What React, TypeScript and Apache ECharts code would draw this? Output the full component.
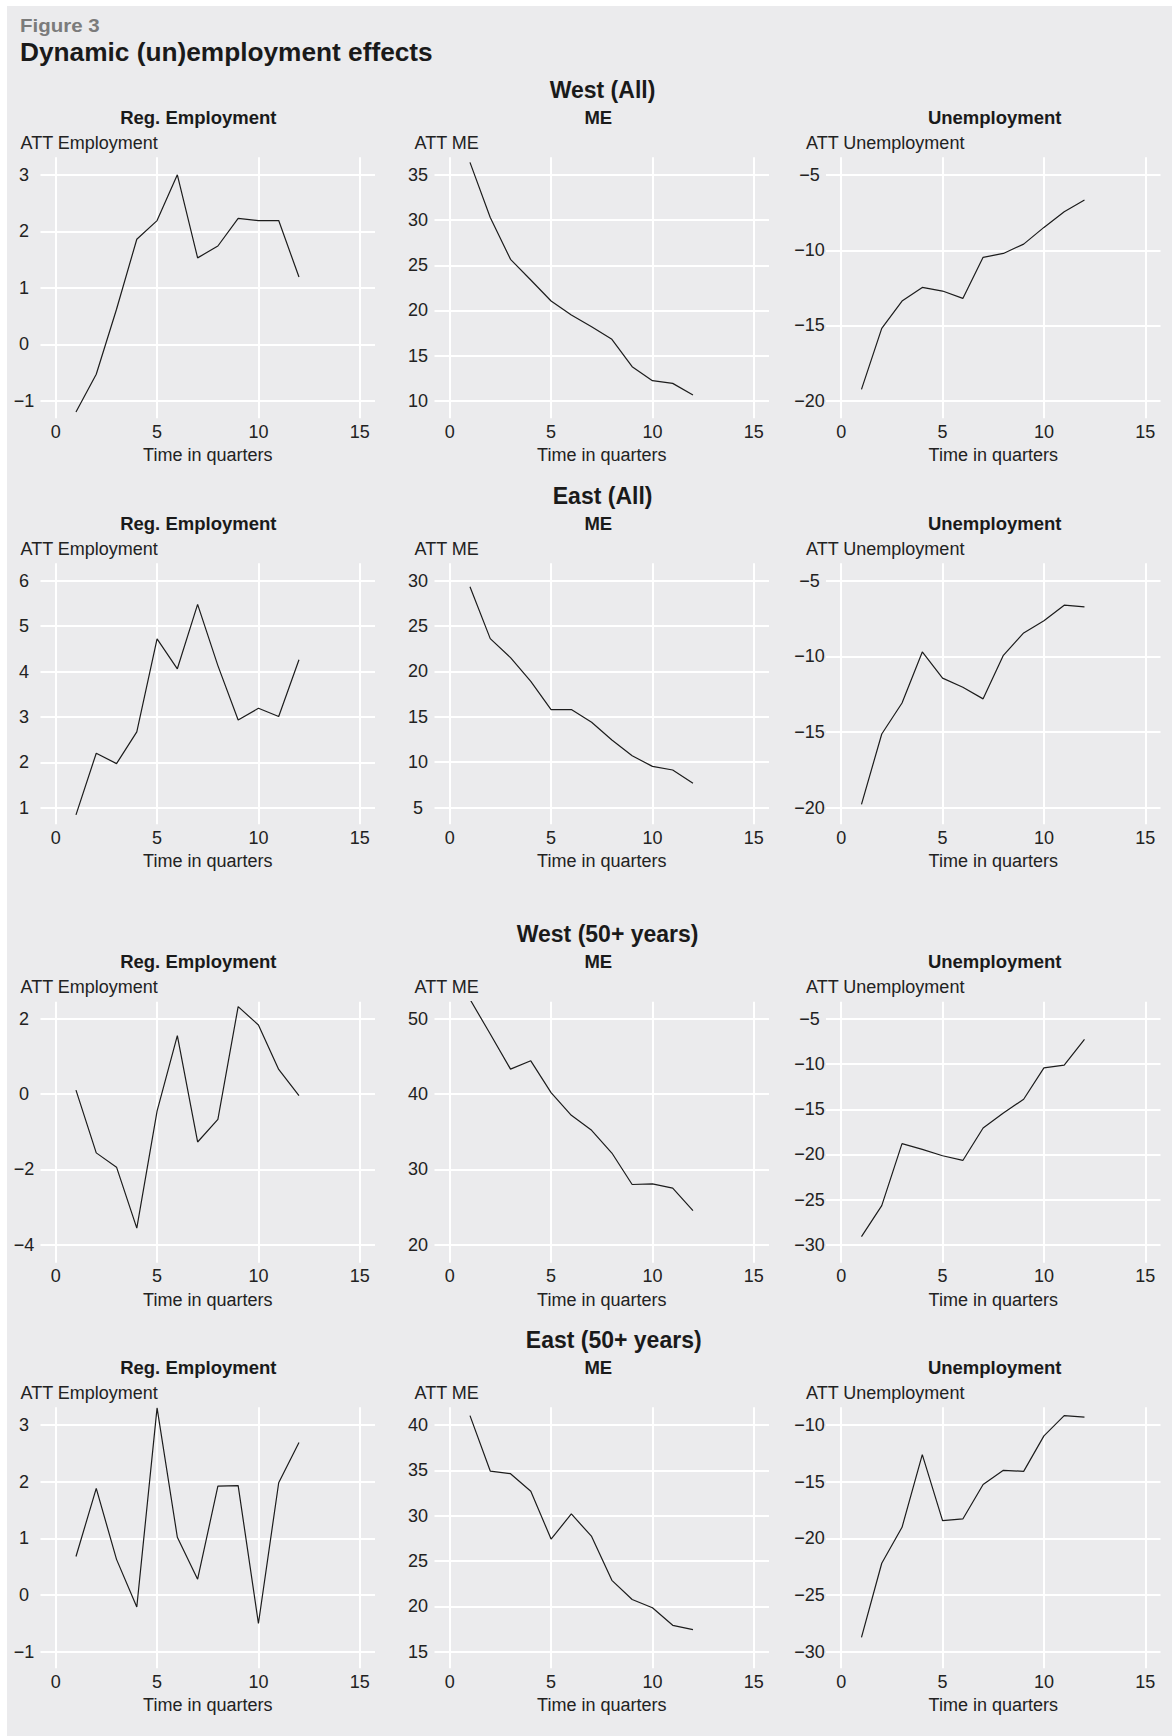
import React, { useEffect, useRef } from "react";
import * as echarts from "echarts";

// ---------- data ----------
const quarters = [1, 2, 3, 4, 5, 6, 7, 8, 9, 10, 11, 12];
const xTicks = [0, 5, 10, 15];

const figureLabel = "Figure 3";
const figureTitle = "Dynamic (un)employment effects";
const groupTitles = ["West (All)", "East (All)", "West (50+ years)", "East (50+ years)"];
const panelTitles = ["Reg. Employment", "ME", "Unemployment"];
const yAxisTitles = ["ATT Employment", "ATT ME", "ATT Unemployment"];
const xAxisTitle = "Time in quarters";

// West (All)
const westAllEmployment = [-1.2, -0.53, 0.62, 1.86, 2.19, 3.0, 1.53, 1.74, 2.23, 2.19, 2.19, 1.19];
const westAllME = [36.4, 30.3, 25.66, 23.37, 21.04, 19.49, 18.2, 16.8, 13.77, 12.22, 11.92, 10.63];
const westAllUnemployment = [-19.25, -15.19, -13.38, -12.47, -12.71, -13.2, -10.47, -10.21, -9.59, -8.48, -7.44, -6.66];
// East (All)
const eastAllEmployment = [0.84, 2.2, 1.97, 2.67, 4.72, 4.06, 5.48, 4.13, 2.93, 3.19, 3.01, 4.26];
const eastAllME = [29.34, 23.62, 21.52, 18.9, 15.8, 15.8, 14.4, 12.45, 10.72, 9.54, 9.14, 7.69];
const eastAllUnemployment = [-19.78, -15.13, -13.08, -9.71, -11.44, -12.04, -12.81, -9.93, -8.45, -7.65, -6.62, -6.73];
// West (50+ years)
const west50Employment = [0.11, -1.56, -1.94, -3.56, -0.45, 1.56, -1.27, -0.67, 2.33, 1.84, 0.66, -0.04];
const west50ME = [52.62, 48.0, 43.33, 44.44, 40.22, 37.2, 35.2, 32.18, 28.0, 28.09, 27.51, 24.53];
const west50Unemployment = [-29.11, -25.67, -18.81, -19.44, -20.15, -20.67, -17.07, -15.41, -13.89, -10.41, -10.11, -7.26];
// East (50+ years)
const east50Employment = [0.68, 1.88, 0.63, -0.21, 3.3, 1.02, 0.28, 1.92, 1.93, -0.5, 1.98, 2.69];
const east50ME = [41.04, 34.93, 34.64, 32.71, 27.43, 30.2, 27.72, 22.88, 20.77, 19.85, 17.92, 17.44];
const east50Unemployment = [-28.73, -22.19, -19.02, -12.6, -18.43, -18.28, -15.24, -13.99, -14.08, -10.95, -9.17, -9.29];

// y tick labels per panel
const westAllEmploymentTicks = [-1, 0, 1, 2, 3];
const westAllMETicks = [10, 15, 20, 25, 30, 35];
const westAllUnemploymentTicks = [-20, -15, -10, -5];
const eastAllEmploymentTicks = [1, 2, 3, 4, 5, 6];
const eastAllMETicks = [5, 10, 15, 20, 25, 30];
const eastAllUnemploymentTicks = [-20, -15, -10, -5];
const west50EmploymentTicks = [-4, -2, 0, 2];
const west50METicks = [20, 30, 40, 50];
const west50UnemploymentTicks = [-30, -25, -20, -15, -10, -5];
const east50EmploymentTicks = [-1, 0, 1, 2, 3];
const east50METicks = [15, 20, 25, 30, 35, 40];
const east50UnemploymentTicks = [-30, -25, -20, -15, -10];

// y axis ranges per panel
const westAllEmploymentRange = [-1.31, 3.31];
const westAllMERange = [8.05, 36.96];
const westAllUnemploymentRange = [-21.17, -3.82];
const eastAllEmploymentRange = [0.633, 6.385];
const eastAllMERange = [3.16, 31.92];
const eastAllUnemploymentRange = [-21.1, -3.85];
const west50EmploymentRange = [-4.48, 2.46];
const west50MERange = [17.6, 52.3];
const west50UnemploymentRange = [-32.0, -3.08];
const east50EmploymentRange = [-1.29, 3.31];
const east50MERange = [13.18, 41.96];
const east50UnemploymentRange = [-31.46, -8.43];
const xRange = [-0.75, 15.75];

const panels = [
  [westAllEmployment, westAllEmploymentTicks, westAllEmploymentRange],
  [westAllME, westAllMETicks, westAllMERange],
  [westAllUnemployment, westAllUnemploymentTicks, westAllUnemploymentRange],
  [eastAllEmployment, eastAllEmploymentTicks, eastAllEmploymentRange],
  [eastAllME, eastAllMETicks, eastAllMERange],
  [eastAllUnemployment, eastAllUnemploymentTicks, eastAllUnemploymentRange],
  [west50Employment, west50EmploymentTicks, west50EmploymentRange],
  [west50ME, west50METicks, west50MERange],
  [west50Unemployment, west50UnemploymentTicks, west50UnemploymentRange],
  [east50Employment, east50EmploymentTicks, east50EmploymentRange],
  [east50ME, east50METicks, east50MERange],
  [east50Unemployment, east50UnemploymentTicks, east50UnemploymentRange],
] as [number[], number[], number[]][];

// ---------- layout ----------
const OX = 7;
const OY = 6;
const FONT = '"Liberation Sans", Arial, Helvetica, sans-serif';
const BG = "#ebebed";
const TEXT = "#222222";
const rowOffsets = [0, 406, 844.4, 1250];
const colLefts = [40.5, 434.5, 826];
const plotW = 334.5;
const plotH = 261;
const plotTop0 = 157.3;
const groupTitleX = [602.5, 602.6, 607.6, 613.7];
const panelTitleX = [198.3, 598.3, 994.7];

const fmt = (v: number) => (v < 0 ? "\u2212" + String(-v) : String(v));

export default function App() {
  const ref = useRef<HTMLDivElement>(null);
  useEffect(() => {
    if (!ref.current) return;
    const chart = echarts.init(ref.current, undefined, { renderer: "svg" });

    const grids: any[] = [];
    const xAxes: any[] = [];
    const yAxes: any[] = [];
    const series: any[] = [];
    const graphics: any[] = [];

    graphics.push({
      type: "text",
      x: 20 - OX,
      y: 25 - OY,
      scaleX: 1.08,
      style: { text: figureLabel, fill: "#7b7b7b", font: `bold 19px ${FONT}`, verticalAlign: "middle", align: "left" },
    });
    graphics.push({
      type: "text",
      x: 20 - OX,
      y: 52.5 - OY,
      scaleX: 1.05,
      style: { text: figureTitle, fill: "#1a1a1a", font: `bold 25px ${FONT}`, verticalAlign: "middle", align: "left" },
    });

    panels.forEach(([vals, ticks, range], i) => {
      const r = Math.floor(i / 3);
      const c = i % 3;
      const top = plotTop0 + rowOffsets[r];
      const left = colLefts[c];
      grids.push({ left: left - OX, top: top - OY, width: plotW, height: plotH, containLabel: false });
      xAxes.push({
        gridIndex: i,
        type: "value",
        min: xRange[0],
        max: xRange[1],
        axisLine: { show: false },
        axisTick: { show: false, customValues: xTicks },
        axisLabel: { customValues: xTicks, margin: 4.5, fontSize: 18, fontFamily: FONT, color: TEXT, formatter: fmt },
        splitLine: { show: true, lineStyle: { color: "#ffffff", width: 2 } },
        name: xAxisTitle,
        nameLocation: "middle",
        nameGap: 28,
        nameTextStyle: { fontSize: 18, fontFamily: FONT, color: TEXT },
      });
      yAxes.push({
        gridIndex: i,
        type: "value",
        min: range[0],
        max: range[1],
        axisLine: { show: false },
        axisTick: { show: false, customValues: ticks },
        axisLabel: { customValues: ticks, margin: 16.5, align: "center", fontSize: 18, fontFamily: FONT, color: TEXT, formatter: fmt },
        splitLine: { show: true, lineStyle: { color: "#ffffff", width: 2 } },
      });
      series.push({
        type: "line",
        xAxisIndex: i,
        yAxisIndex: i,
        data: quarters.map((q, k) => [q, vals[k]]),
        symbol: "none",
        showSymbol: false,
        silent: true,
        lineStyle: { color: "#1c1c1c", width: 1.2 },
        z: 3,
      });
      if (c === 0) {
        graphics.push({
          type: "text",
          x: groupTitleX[r] - OX,
          y: 89.5 + rowOffsets[r] - OY,
          style: { text: groupTitles[r], fill: "#1a1a1a", font: `bold 23px ${FONT}`, verticalAlign: "middle", align: "center" },
        });
      }
      graphics.push({
        type: "text",
        x: panelTitleX[c] - OX,
        y: 117 + rowOffsets[r] - OY,
        style: { text: panelTitles[c], fill: "#1a1a1a", font: `bold 18.5px ${FONT}`, verticalAlign: "middle", align: "center" },
      });
      graphics.push({
        type: "text",
        x: left - 20 - OX,
        y: 142.5 + rowOffsets[r] - OY,
        style: { text: yAxisTitles[c], fill: TEXT, font: `18px ${FONT}`, verticalAlign: "middle", align: "left" },
      });
    });

    chart.setOption({
      animation: false,
      backgroundColor: BG,
      textStyle: { fontFamily: FONT },
      grid: grids,
      xAxis: xAxes,
      yAxis: yAxes,
      series,
      graphic: { elements: graphics },
    });
    return () => chart.dispose();
  }, []);

  return (
    <div style={{ position: "absolute", left: 0, top: 0, width: 1172, height: 1736, background: "#ffffff" }}>
      <div ref={ref} style={{ position: "absolute", left: OX, top: OY, width: 1172 - OX, height: 1736 - OY }} />
    </div>
  );
}
